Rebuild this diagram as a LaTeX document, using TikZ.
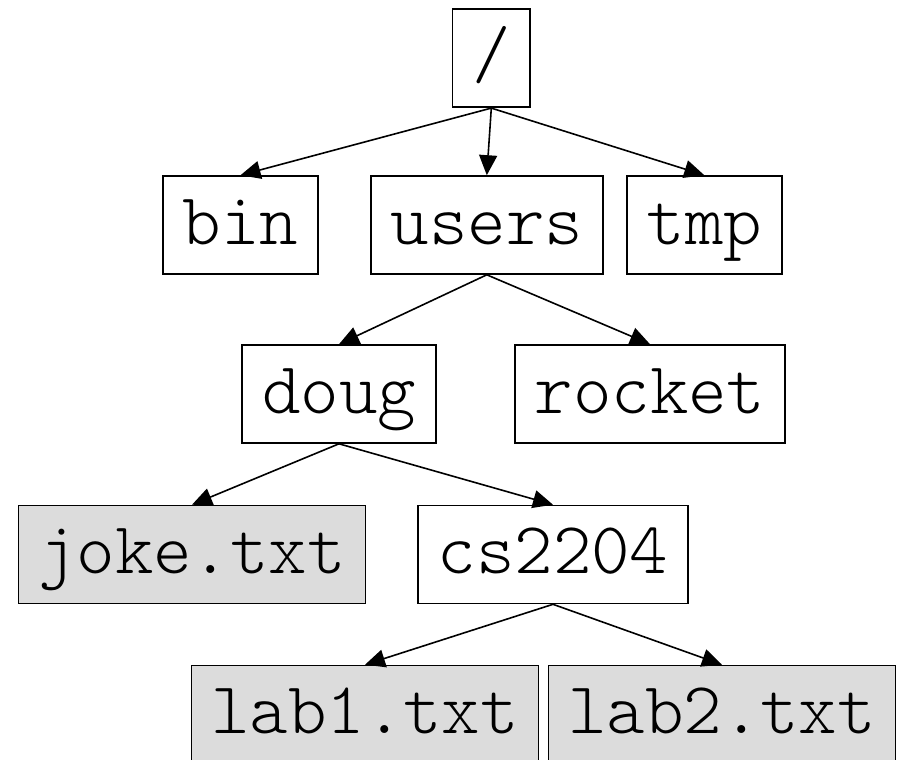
\documentclass[tikz,border=0pt]{standalone}
\usepackage{fontspec}
\setmonofont{Latin Modern Mono Light}
\usetikzlibrary{arrows.meta}
\definecolor{filegray}{RGB}{220,220,220}
\tikzset{
  box/.style={draw, line width=1.6pt, minimum height=98pt, inner xsep=19.75pt, inner ysep=0pt,
    text height=55pt, text depth=17pt, font=\ttfamily\fontsize{73.3}{80}\selectfont},
  filebox/.style={box, fill=filegray},
  edge/.style={line width=1.6pt, -{Triangle[length=20pt,width=18pt]}}
}
\begin{document}
\begin{tikzpicture}[x=1pt,y=-1pt]
\useasboundingbox (0,0) rectangle (898,760);
\node[box] (root) at (491.3,58.3) {/};
\node[box] (bin) at (240.5,225) {bin};
\node[box] (users) at (486.8,225) {users};
\node[box] (tmp) at (704.3,225) {tmp};
\node[box] (doug) at (339,394) {doug};
\node[box] (rocket) at (650,394) {rocket};
\node[filebox] (joke) at (192,554.5) {joke.txt};
\node[box] (cs) at (553,554.5) {cs2204};
\node[filebox] (lab1) at (365,714.5) {lab1.txt};
\node[filebox] (lab2) at (722,714.5) {lab2.txt};
\draw[edge] (root.south) -- (bin.north);
\draw[edge] (root.south) -- (users.north);
\draw[edge] (root.south) -- (tmp.north);
\draw[edge] (users.south) -- (doug.north);
\draw[edge] (users.south) -- (rocket.north);
\draw[edge] (doug.south) -- (joke.north);
\draw[edge] (doug.south) -- (cs.north);
\draw[edge] (cs.south) -- (lab1.north);
\draw[edge] (cs.south) -- (lab2.north);
\end{tikzpicture}
\end{document}
